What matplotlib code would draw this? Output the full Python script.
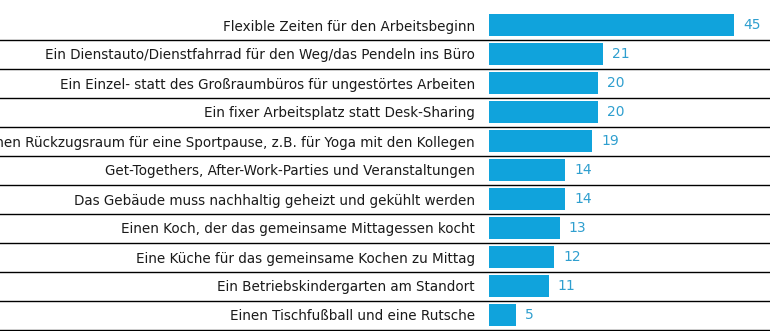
import matplotlib
matplotlib.use("Agg")
import matplotlib.pyplot as plt
import matplotlib.transforms as mtransforms

labels = [
    "Flexible Zeiten für den Arbeitsbeginn",
    "Ein Dienstauto/Dienstfahrrad für den Weg/das Pendeln ins Büro",
    "Ein Einzel- statt des Großraumbüros für ungestörtes Arbeiten",
    "Ein fixer Arbeitsplatz statt Desk-Sharing",
    "Einen Rückzugsraum für eine Sportpause, z.B. für Yoga mit den Kollegen",
    "Get-Togethers, After-Work-Parties und Veranstaltungen",
    "Das Gebäude muss nachhaltig geheizt und gekühlt werden",
    "Einen Koch, der das gemeinsame Mittagessen kocht",
    "Eine Küche für das gemeinsame Kochen zu Mittag",
    "Ein Betriebskindergarten am Standort",
    "Einen Tischfußball und eine Rutsche",
]
values = [45, 21, 20, 20, 19, 14, 14, 13, 12, 11, 5]

bar_color = "#10a3dc"
value_color = "#2f9fcf"

fig = plt.figure(figsize=(7.7, 3.31), dpi=100)
ax = fig.add_axes([489 / 770, 1 - 329.5 / 331, 281 / 770, 319 / 331])

y = list(range(len(values)))
ax.barh(y, values, height=0.73, color=bar_color)
ax.set_ylim(len(values) - 0.5, -0.5)
ax.set_xlim(0, 281 / 5.44)

for yi, v in zip(y, values):
    ax.annotate(str(v), (v, yi), xytext=(6.5, 0), textcoords="offset points",
                va="center", ha="left", color=value_color, fontsize=10)

ax.set_yticks(y)
ax.set_yticklabels(labels, fontsize=9.75, color="#1a1a1a")
ax.tick_params(axis="y", length=0, pad=10)
ax.set_xticks([])
for s in ax.spines.values():
    s.set_visible(False)

# separators across the whole figure width
trans = mtransforms.blended_transform_factory(fig.transFigure, ax.transData)
for yi in y:
    ax.plot([0, 1], [yi + 0.5, yi + 0.5], transform=trans, color="black",
            linewidth=1, clip_on=False)

fig.savefig("out.png", dpi=100)
